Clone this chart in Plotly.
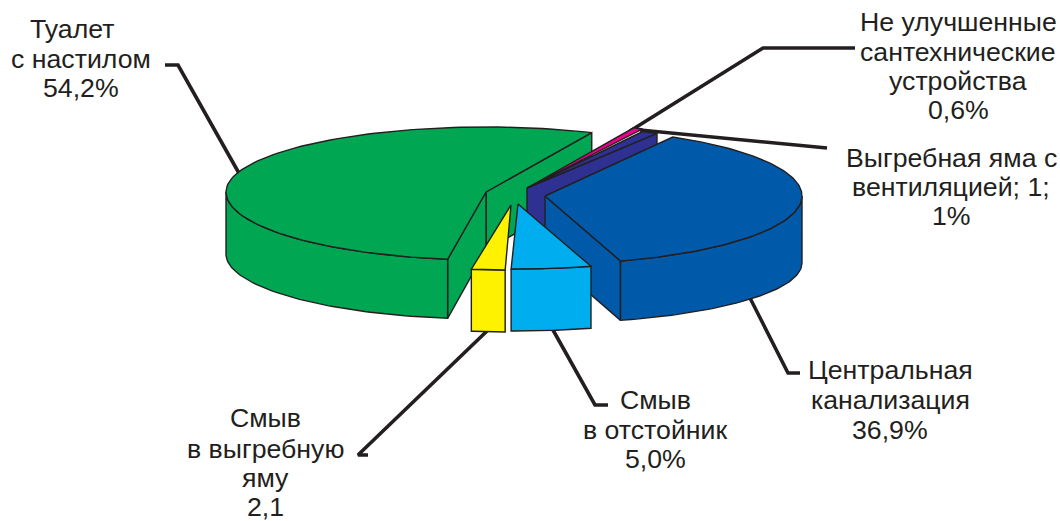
import numpy as np
import plotly.graph_objects as go

# Data
categories = ["Туалет с настилом", "Не улучшенные сантехнические устройства",
              "Выгребная яма с вентиляцией", "Центральная канализация",
              "Смыв в отстойник", "Смыв в выгребную яму"]
values = [54.2, 0.6, 1.0, 36.9, 5.0, 2.1]
colors = ["#00a651", "#ec008c", "#2e3192", "#0059a9", "#00aeef", "#fff200"]

# Layout of the exploded pie, per slice (pixels of the plot area)
start_angle = [66.0, 63.6, 60.0, 60.2, -73.5, -91.3]
centers_x = [486, 527, 527, 545, 518, 511]
centers_y = [192, 188, 188, 196, 204, 205]
radius_x = [260, 260, 260, 257, 257, 257]
radius_y_back = [65, 66, 63, 68, 65, 65]
radius_y_front = [68, 66, 63, 68, 65, 65]
bottom_offset = [62, 59, 59, 67, 62, 62]
bottom_radius_y = [65, 63, 63, 60, 65, 65]
apex_depth = [58, 59, 59, 59, 62, 62]

label_lines = ["Туалет", "с настилом", "54,2%",
               "Не улучшенные", "сантехнические", "устройства", "0,6%",
               "Выгребная яма с", "вентиляцией; 1;", "1%",
               "Центральная", "канализация", "36,9%",
               "Смыв", "в отстойник", "5,0%",
               "Смыв", "в выгребную", "яму", "2,1"]
label_x = [72, 81, 81, 958, 958, 958, 958, 951, 951, 951, 890, 890, 890,
           655, 655, 655, 265, 265, 265, 265]
label_y = [29, 59, 88, 22, 52, 81, 110, 158, 187, 216, 370, 400, 430,
           400, 430, 459, 418, 449, 478, 507]

leader_x = [[165, 178, 240], [855, 763, 630], [827, 640], [800, 788, 750],
            [608, 595, 553], [368, 358, 487]]
leader_y = [[65, 65, 175], [48, 48, 131], [148, 130], [373, 373, 298],
            [405, 405, 330], [455, 455, 331]]

INK = "#231f20"
total = sum(values)
spans = [v / total * 360 for v in values]

fig = go.Figure()


def poly(xs, ys, color, width=1.4):
    fig.add_trace(go.Scatter(x=list(xs), y=list(ys), mode="lines", fill="toself",
                             fillcolor=color, line=dict(color=INK, width=width),
                             hoverinfo="skip", showlegend=False))


def top_xy(i, deg):
    t = np.radians(deg)
    s = np.sin(t)
    ry = np.where(s >= 0, radius_y_back[i], radius_y_front[i])
    return centers_x[i] + radius_x[i] * np.cos(t), centers_y[i] - ry * s


def bottom_xy(i, deg):
    t = np.radians(deg)
    return (centers_x[i] + radius_x[i] * np.cos(t),
            centers_y[i] + bottom_offset[i] - bottom_radius_y[i] * np.sin(t))


for lx, ly in zip(leader_x, leader_y):
    fig.add_trace(go.Scatter(x=lx, y=ly, mode="lines", line=dict(color=INK, width=3.6),
                             hoverinfo="skip", showlegend=False))


def draw_slice(i, a_lo, a_hi):
    """Slice spans counter-clockwise from a_lo to a_hi (degrees)."""
    cx, cy, d, col = centers_x[i], centers_y[i], apex_depth[i], colors[i]
    if i == 0:
        x2, y2 = top_xy(i, a_lo)
        poly([cx, x2, x2, cx, cx], [cy, y2, y2 + d, cy + d, cy], col)
        x1, y1 = top_xy(i, a_hi)
        xb, yb = bottom_xy(i, a_hi)
        poly([cx, x1, xb, cx, cx], [cy, y1, yb, cy + d, cy], col)
    if i == 2:
        x2, y2 = top_xy(i, a_lo)
        poly([cx, x2, x2, cx, cx], [cy, y2, y2 + d, cy + d, cy], col)
    if i == 3:
        x1, y1 = top_xy(i, a_lo)
        xb, yb = bottom_xy(i, a_lo)
        poly([cx, x1, xb, cx, cx], [cy, y1, yb, cy + d, cy], col)
    # outer rim: only the front part is visible
    if i == 0:
        rim = np.linspace(180, a_hi, 60)
    elif i == 3:
        rim = np.linspace(a_lo, 0, 60)
    elif i in (4, 5):
        rim = np.linspace(a_lo, a_hi, 30)
    else:
        rim = None
    if rim is not None:
        xt, yt = top_xy(i, rim)
        xb, yb = bottom_xy(i, rim)
        poly(np.r_[xt, xb[::-1], xt[0]], np.r_[yt, yb[::-1], yt[0]], col)
    # top face
    arc = np.linspace(a_lo, a_hi, 120)
    xt, yt = top_xy(i, arc)
    poly(np.r_[cx, xt, cx], np.r_[cy, yt, cy], col)


draw_slice(0, start_angle[0], start_angle[0] + spans[0])
draw_slice(2, start_angle[2], start_angle[2] + spans[2])
draw_slice(1, start_angle[1], start_angle[1] + spans[1])
draw_slice(3, start_angle[3] - spans[3], start_angle[3])
draw_slice(5, start_angle[5] - spans[5], start_angle[5])
draw_slice(4, start_angle[4] - spans[4], start_angle[4])

for t, x, y in zip(label_lines, label_x, label_y):
    fig.add_annotation(x=x, y=y, text=t, showarrow=False, xanchor="center", yanchor="middle",
                       font=dict(family="Liberation Sans", size=26.7, color=INK))

fig.update_layout(
    width=1060, height=521, margin=dict(l=0, r=0, t=0, b=0),
    paper_bgcolor="white", plot_bgcolor="white", showlegend=False,
    xaxis=dict(range=[0, 1060], visible=False, fixedrange=True),
    yaxis=dict(range=[521, 0], visible=False, fixedrange=True),
)
fig.write_html("out.html", config={"displayModeBar": False},
               post_script="document.body.style.margin='0';document.documentElement.style.overflow='hidden';")
